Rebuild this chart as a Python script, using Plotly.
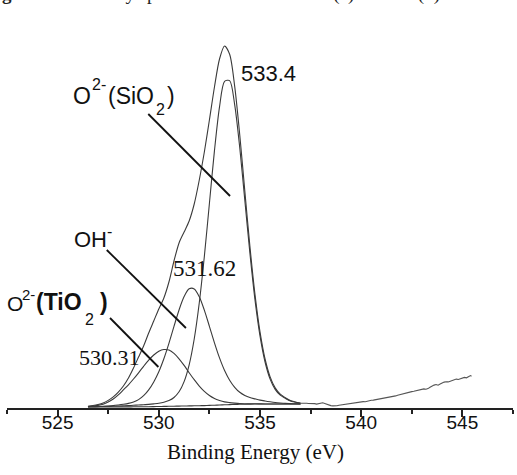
import plotly.graph_objects as go

# ---- data (intensity in arbitrary units) ----
energy = [526.5, 526.75, 527.0, 527.25, 527.5, 527.75, 528.0, 528.25, 528.5, 528.75,
          529.0, 529.25, 529.5, 529.75, 530.0, 530.25, 530.5, 530.75, 531.0, 531.25,
          531.5, 531.75, 532.0, 532.25, 532.5, 532.75, 533.0, 533.25, 533.5, 533.75,
          534.0, 534.25, 534.5, 534.75, 535.0, 535.25, 535.5, 535.75, 536.0, 536.25,
          536.5, 536.75, 537.0]

background = [1.0, 1.0, 1.0, 1.0, 1.0, 1.0, 1.1, 1.1, 1.1, 1.2,
              1.2, 1.3, 1.3, 1.4, 1.5, 1.6, 1.7, 1.8, 1.9, 2.0,
              2.1, 2.2, 2.3, 2.4, 2.6, 2.8, 3.0, 3.2, 3.4, 3.6,
              3.7, 3.8, 3.9, 4.0, 4.0, 4.0, 4.0, 4.0, 4.0, 4.0,
              4.0, 4.0, 4.0]

tio2 = [1.4, 1.9, 2.6, 3.8, 6.0, 9.0, 13.1, 18.1, 23.2, 29.0,
        35.2, 41.7, 47.8, 53.0, 56.8, 58.5, 57.9, 54.6, 49.2, 42.6,
        35.3, 28.3, 21.9, 16.6, 12.5, 9.5, 7.5, 6.1, 5.4, 4.9,
        4.5, 4.3, 4.2, 4.2, 4.1, 4.0, 4.0, 4.0, 4.0, 4.0,
        4.0, 4.0, 4.0]

hydroxyl = [1.2, 1.3, 1.5, 1.7, 2.0, 2.4, 3.0, 3.7, 4.6, 6.1,
            8.4, 12.3, 18.1, 26.1, 36.3, 49.3, 64.7, 81.6, 98.0, 111.4,
            119.2, 119.1, 111.3, 97.9, 81.7, 65.2, 50.1, 37.5, 27.8, 20.7,
            15.7, 12.5, 10.4, 9.1, 7.9, 7.0, 6.2, 5.5, 5.0, 4.6,
            4.4, 4.2, 4.1]

sio2 = [1.2, 1.3, 1.4, 1.5, 1.6, 1.7, 2.0, 2.2, 2.4, 2.7,
        3.0, 3.3, 3.6, 4.1, 4.7, 5.7, 7.4, 10.5, 16.2, 26.4,
        43.2, 69.0, 105.2, 151.5, 204.5, 257.4, 301.2, 326.6, 327.4, 303.2,
        260.2, 207.8, 155.1, 108.6, 72.1, 46.0, 28.9, 18.6, 12.8, 9.7,
        7.0, 5.8, 4.8]

envelope = [1.8, 2.5, 3.5, 5.0, 7.6, 11.1, 15.9, 22.0, 30.0, 40.0,
            51.0, 62.0, 75.0, 87.0, 99.0, 110.0, 126.0, 147.0, 165.0, 176.0,
            187.0, 204.0, 228.0, 256.0, 288.0, 321.0, 349.0, 362.0, 353.8, 321.6,
            273.0, 217.0, 161.9, 113.9, 76.1, 49.0, 31.1, 20.1, 13.8, 10.3,
            7.4, 6.0, 4.9]

raw_energy = [537.0, 537.1, 537.2, 537.3, 537.4, 537.5, 537.6, 537.7, 537.8, 537.9,
              538.0, 538.1, 538.2, 538.3, 538.4, 538.5, 538.6, 538.7, 538.8, 538.9,
              539.0, 539.1, 539.2, 539.3, 539.4, 539.5, 539.6, 539.7, 539.8, 539.9,
              540.0, 540.1, 540.2, 540.3, 540.4, 540.5, 540.6, 540.7, 540.8, 540.9,
              541.0, 541.1, 541.2, 541.3, 541.4, 541.5, 541.6, 541.7, 541.8, 541.9,
              542.0, 542.1, 542.2, 542.3, 542.4, 542.5, 542.6, 542.7, 542.8, 542.9,
              543.0, 543.1, 543.2, 543.3, 543.4, 543.5, 543.6, 543.7, 543.8, 543.9,
              544.0, 544.1, 544.2, 544.3, 544.4, 544.5, 544.6, 544.7, 544.8, 544.9,
              545.0, 545.1, 545.2, 545.3, 545.4, 545.45]

raw_counts = [4.7, 4.9, 4.6, 4.8, 4.5, 4.6, 4.2, 4.4, 3.9, 4.3,
              4.8, 5.2, 4.6, 3.6, 2.8, 2.4, 2.1, 2.0, 2.3, 2.7,
              3.0, 3.4, 3.9, 4.3, 4.6, 4.9, 5.3, 5.2, 5.6, 6.1,
              6.0, 6.4, 6.3, 7.0, 7.5, 7.8, 7.9, 8.3, 8.6, 8.8,
              9.3, 9.6, 10.2, 10.0, 10.8, 11.4, 11.3, 12.1, 12.8, 13.4,
              13.9, 14.3, 14.9, 15.2, 15.8, 16.4, 16.8, 17.3, 17.7, 17.6,
              18.2, 19.1, 18.8, 19.4, 20.8, 22.0, 22.9, 23.5, 22.8, 23.9,
              25.3, 25.9, 26.3, 26.1, 26.8, 27.6, 28.2, 28.9, 28.5, 29.4,
              30.3, 30.6, 30.2, 31.4, 32.4, 31.7]

tick_vals = [525, 530, 535, 540, 545]
tick_text = ["525", "530", "535", "540", "545"]

# ---- figure ----
W, H = 517, 475
ML, MR, MT, MB = 7, 4, 40, 67
PW, PH = W - ML - MR, H - MT - MB

curve = dict(color="#3a3a3a", width=1.1)
fig = go.Figure()
for ys in (background, tio2, hydroxyl, sio2, envelope):
    fig.add_trace(go.Scatter(x=energy, y=ys, mode="lines",
                             line=dict(shape="spline", smoothing=0.8, **curve),
                             hoverinfo="skip"))
fig.add_trace(go.Scatter(x=raw_energy, y=raw_counts, mode="lines",
                         line=dict(color="#555555", width=1.1), hoverinfo="skip"))

# leader lines (data coordinates)
leaders = [((529.48, 294), (533.52, 212)),
           ((527.43, 158), (531.34, 80)),
           ((527.59, 90), (529.98, 41))]
for (x0, y0), (x1, y1) in leaders:
    fig.add_shape(type="line", xref="x", yref="y", x0=x0, y0=y0, x1=x1, y1=y1,
                  line=dict(color="#111111", width=1.8))

sans = "Liberation Sans, Arial, sans-serif"
serif = "Liberation Serif, Times New Roman, serif"
INK = "#111111"


def piece(text, px, base, size, family=sans, anchor="left"):
    """Place a text piece by its left pixel edge and baseline pixel row."""
    fig.add_annotation(text=text, xref="paper", yref="paper",
                       x=(px - 2 - ML) / PW, y=(H - MB - (base - 0.33 * size)) / PH,
                       xanchor=anchor, yanchor="middle", showarrow=False,
                       font=dict(family=family, size=size, color=INK))


# O2-(SiO2)
piece("O", 73, 103.5, 23)
piece("2-", 92, 89.5, 16)
piece("(SiO", 108, 103.5, 23)
piece("2", 156, 115, 16)
piece(")", 167, 103.5, 23)
# OH-
piece("OH", 74, 246.7, 22)
piece("-", 107, 237, 16)
# O2-(TiO2)
piece("O", 7, 310, 21)
piece("2-", 22, 299, 15)
piece("<b>(TiO</b>", 36, 310, 23)
piece("2", 85, 325, 16)
piece("<b>)</b>", 100, 310, 23)

# peak position labels (data coordinates)
for text, x, y, fam, size in [("533.4", 535.44, 335, sans, 22),
                              ("531.62", 532.28, 139.5, serif, 23),
                              ("530.31", 527.57, 50.5, serif, 22)]:
    fig.add_annotation(text=text, x=x, y=y, xref="x", yref="y",
                       xanchor="center", yanchor="middle", showarrow=False,
                       font=dict(family=fam, size=size, color=INK))

fig.add_annotation(text="Binding Energy (eV)", xref="paper", yref="paper",
                   x=0.492, y=-0.1196, xanchor="center", yanchor="middle",
                   showarrow=False, font=dict(family=serif, size=21, color=INK))

fig.add_annotation(text="<b>Fig. 5.</b>\u00a0\u00a0XPS survey spectra for the surface of (a) TS and (b) 1.6% M",
                   xref="paper", yref="paper", x=-0.0474, y=1.1258,
                   xanchor="left", yanchor="middle", showarrow=False,
                   font=dict(family=serif, size=19, color="#222222"))

fig.update_layout(
    width=W, height=H,
    margin=dict(l=ML, r=MR, t=MT, b=MB),
    paper_bgcolor="white", plot_bgcolor="white",
    showlegend=False,
    xaxis=dict(range=[522.5, 547.5], showgrid=False, zeroline=False,
               showline=True, linecolor="#222222", linewidth=1.5,
               ticks="outside", ticklen=7, tickwidth=1.5, tickcolor="#222222",
               tickmode="array", tickvals=tick_vals, ticktext=tick_text,
               ticklabelstandoff=-11,
               tickfont=dict(family=sans, size=19, color=INK),
               minor=dict(ticks="outside", ticklen=4, tickwidth=1.5,
                          tickcolor="#222222", dtick=2.5, tick0=522.5)),
    yaxis=dict(range=[0, 368], visible=False, showgrid=False, zeroline=False),
)

fig.write_html("out.html")
